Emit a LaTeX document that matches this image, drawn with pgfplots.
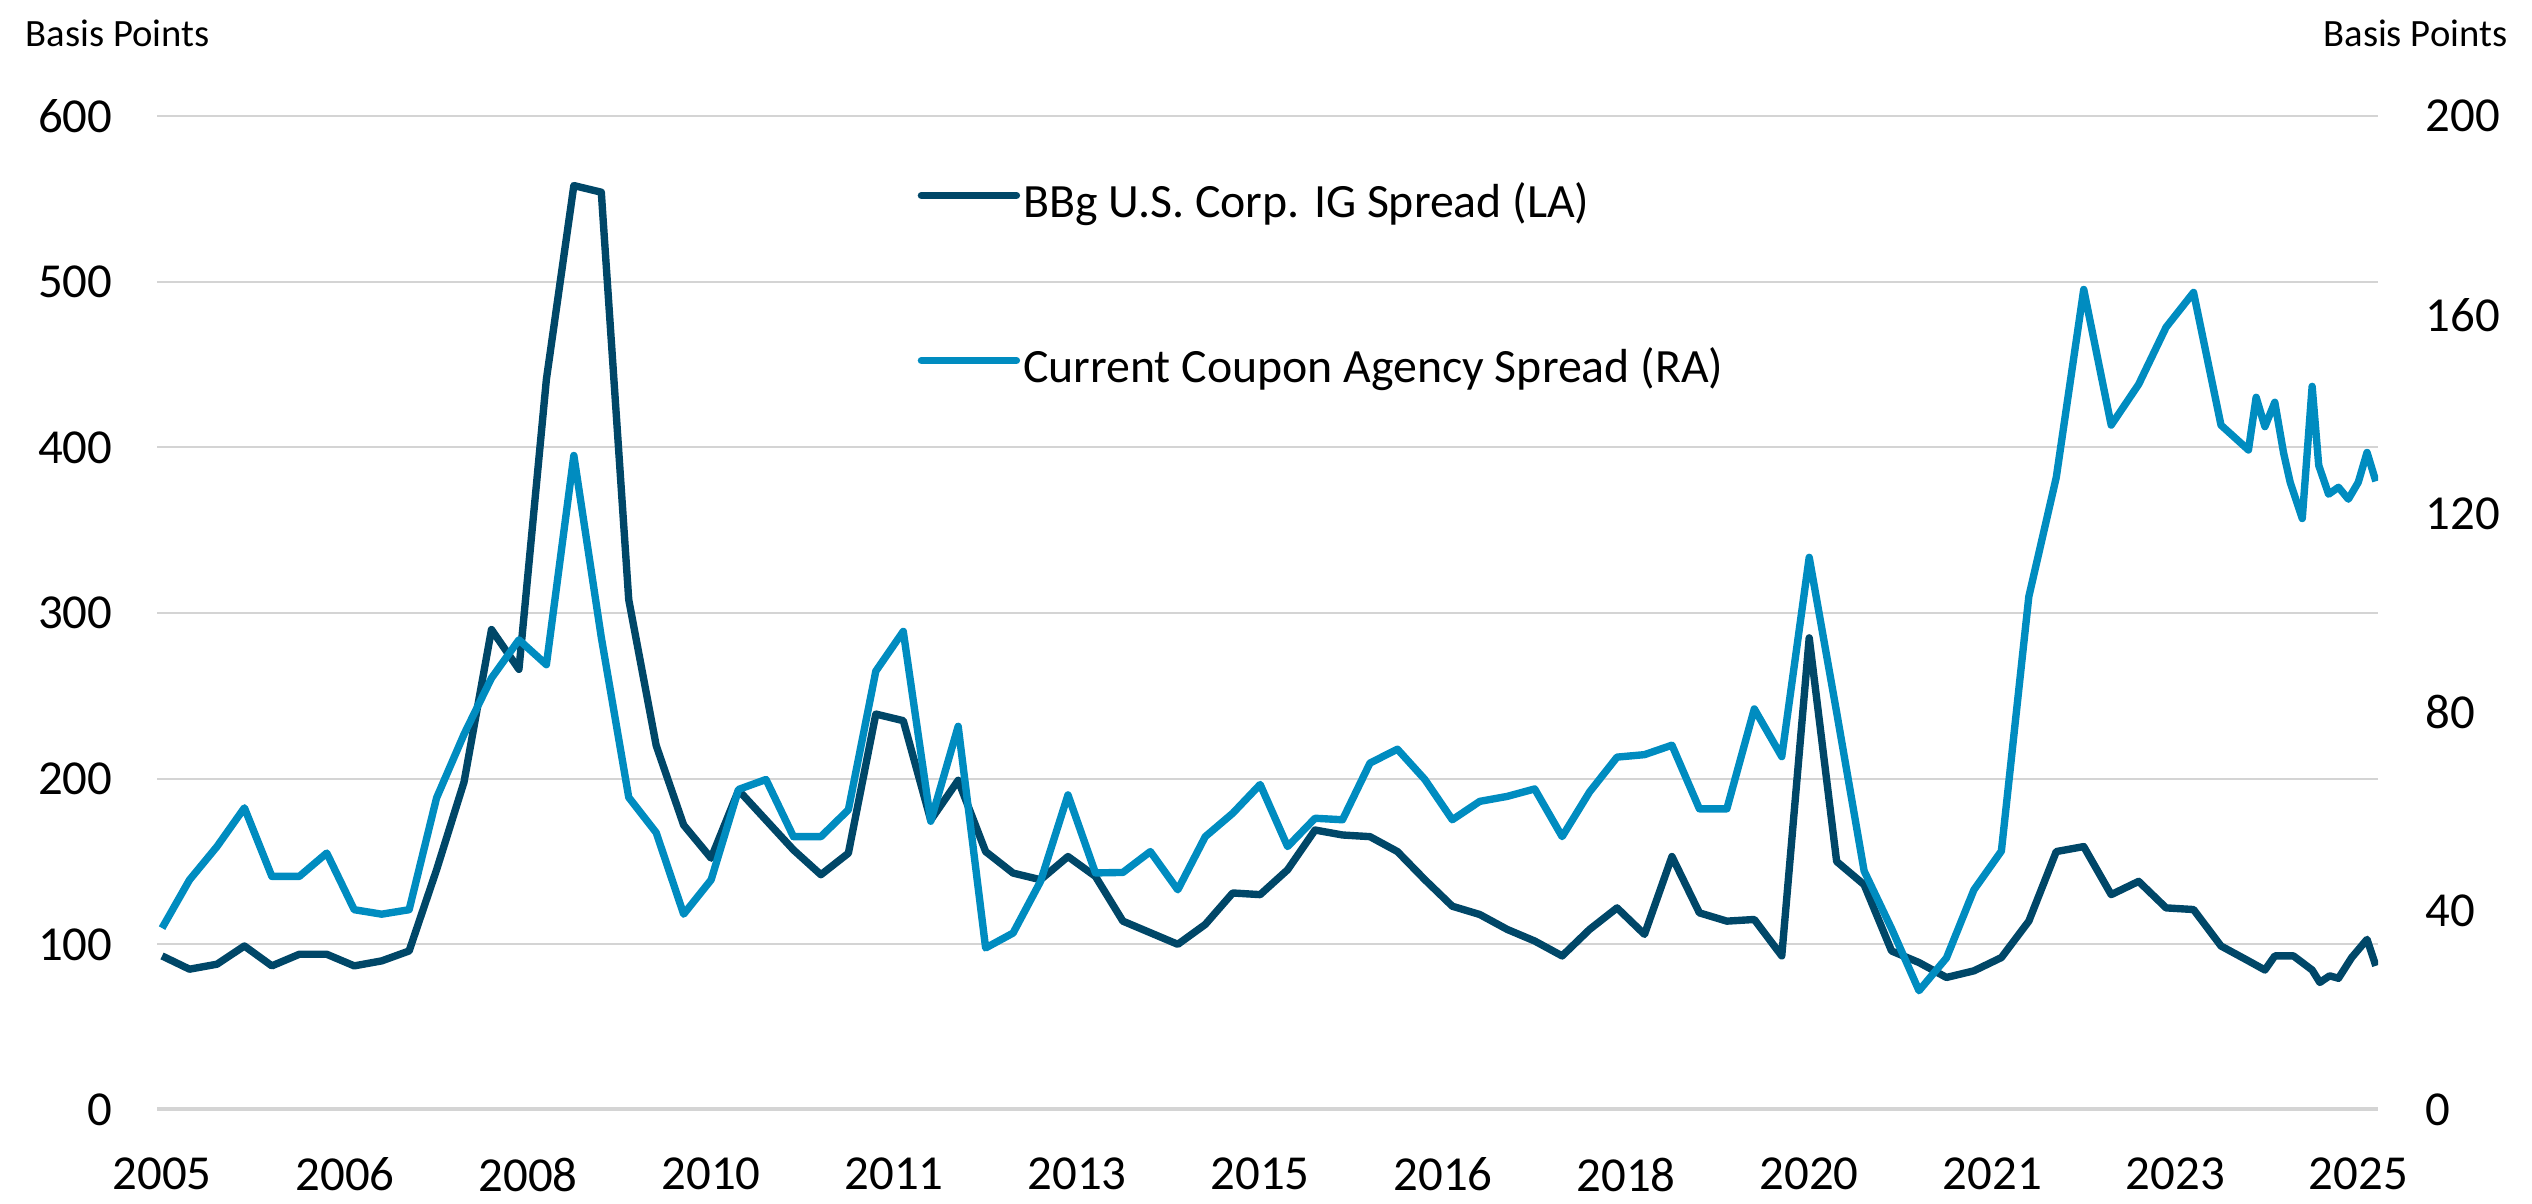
\documentclass[border=0pt]{standalone}
\usepackage{pgfplots}
\usepackage{pgfplotstable}
\pgfplotsset{compat=1.18}
\usepackage{fontspec}
\setmainfont{Carlito}
\definecolor{igblue}{RGB}{0,71,104}
\definecolor{agblue}{RGB}{0,140,192}
\definecolor{gridgray}{RGB}{212,212,212}

\pgfplotstableread{
x y
2005.00 93
2005.25 85
2005.50 88
2005.75 99
2006.00 87
2006.25 94
2006.50 94
2006.75 87
2007.00 90
2007.25 96
2007.50 145
2007.75 198
2008.00 290
2008.25 266
2008.50 441
2008.75 558
2009.00 554
2009.25 308
2009.50 220
2009.75 172
2010.00 152
2010.25 193
2010.50 175
2010.75 157
2011.00 142
2011.25 155
2011.50 239
2011.75 235
2012.00 175
2012.25 199
2012.50 156
2012.75 143
2013.00 139
2013.25 153
2013.50 141
2013.75 114
2014.00 107
2014.25 100
2014.50 112
2014.75 131
2015.00 130
2015.25 145
2015.50 169
2015.75 166
2016.00 165
2016.25 156
2016.50 139
2016.75 123
2017.00 118
2017.25 109
2017.50 102
2017.75 93
2018.00 109
2018.25 122
2018.50 106
2018.75 153
2019.00 119
2019.25 114
2019.50 115
2019.75 93
2020.00 285
2020.25 150
2020.50 136
2020.75 96
2021.00 89
2021.25 80
2021.50 84
2021.75 92
2022.00 114
2022.25 156
2022.50 159
2022.75 130
2023.00 138
2023.25 122
2023.50 121
2023.75 99
2024.00 90
2024.15 84.5
2024.24 93
2024.41 93
2024.58 84.5
2024.65 77
2024.74 81
2024.82 79.5
2024.94 92
2025.08 103
2025.16 87
}\igdata

\pgfplotstableread{
x y
2005.00 36.6
2005.25 46.3
2005.50 53
2005.75 60.8
2006.00 47
2006.25 47
2006.50 51.7
2006.75 40.3
2007.00 39.4
2007.25 40.3
2007.50 62.8
2007.75 75.6
2008.00 86.9
2008.25 94.6
2008.50 89.6
2008.75 131.7
2009.00 95.1
2009.25 62.9
2009.50 55.8
2009.75 39.4
2010.00 46.3
2010.25 64.5
2010.50 66.5
2010.75 55
2011.00 55
2011.25 60.4
2011.50 88.3
2011.75 96.3
2012.00 58.1
2012.25 77.2
2012.50 32.6
2012.75 35.6
2013.00 46
2013.25 63.4
2013.50 47.7
2013.75 47.8
2014.00 52
2014.25 44.3
2014.50 55
2014.75 59.7
2015.00 65.5
2015.25 53
2015.50 58.7
2015.75 58.4
2016.00 69.8
2016.25 72.6
2016.50 66.5
2016.75 58.4
2017.00 62.1
2017.25 63.1
2017.50 64.6
2017.75 55
2018.00 64
2018.25 71
2018.50 71.5
2018.75 73.4
2019.00 60.6
2019.25 60.6
2019.50 80.7
2019.75 71.1
2020.00 111.2
2020.25 80
2020.50 48.1
2020.75 36.5
2021.00 24
2021.25 30.6
2021.50 44.3
2021.75 52.1
2022.00 103.3
2022.25 127.3
2022.50 165.1
2022.75 137.8
2023.00 146
2023.25 157.5
2023.50 164.5
2023.75 137.8
2024.00 132.8
2024.07 143.4
2024.15 137.5
2024.24 142.4
2024.32 132.2
2024.38 126.3
2024.49 119
2024.58 145.6
2024.64 129.7
2024.73 123.9
2024.82 125.3
2024.91 122.9
2025.00 126.3
2025.08 132.3
2025.16 126.5
}\agdata

\pgfplotsset{
  common/.style={
    at={(0,0)}, anchor=south west,
    scale only axis, width=222.1mm, height=99.4mm,
    xmin=2004.954, xmax=2025.18,
    axis line style={draw=none},
    major tick length=0pt,
    tick style={draw=none},
    ticklabel style={font=\fontsize{13.9}{14}\selectfont},
    /pgf/number format/assume math mode=true,
  }
}

\begin{document}
\begin{tikzpicture}
\useasboundingbox (-15.7mm,-9.4mm) rectangle (237.5mm,111.0mm);
\begin{axis}[
  common,
  ymin=0, ymax=600,
  xtick={2005,2006.6667,2008.3333,2010,2011.6667,2013.3333,2015,2016.6667,2018.3333,2020,2021.6667,2023.3333,2025},
  xticklabels={2005,2006,2008,2010,2011,2013,2015,2016,2018,2020,2021,2023,2025},
  ytick={0,100,...,600},
  ymajorgrids, grid style={gridgray, line width=0.2mm},
  xticklabel style={anchor=north, inner sep=0pt, yshift=-4.7mm},
  yticklabel style={anchor=east, inner sep=0pt, xshift=-4.4mm},
  legend cell align=left,
  legend image code/.code={\draw[#1, line cap=round] (0mm,1.1mm) -- (9.5mm,1.1mm);},
  legend style={at={(0.3422,0.826)}, anchor=west, draw=none, fill=none,
    inner sep=0pt, row sep=12.1mm, column sep=0.3mm,
    font=\fontsize{13.6}{14}\selectfont,
    nodes={inner sep=0pt, text height=3.3mm, text depth=1.1mm}},
]
\draw[gridgray, line width=0.6mm] (rel axis cs:0,0) -- (rel axis cs:1,0);
\addplot[igblue, line width=2.1pt, line join=round] table[x=x,y=y]{\igdata};
\addlegendentry{BBg U.S. Corp. IG Spread (LA)}
\addlegendimage{agblue, line width=2.1pt}
\addlegendentry{Current Coupon Agency Spread (RA)}
\end{axis}
\begin{axis}[
  common,
  ymin=0, ymax=200,
  ytick={0,40,...,200},
  axis y line*=right, axis x line=none,
  yticklabel style={anchor=west, inner sep=0pt, xshift=4.7mm},
]
\addplot[agblue, line width=2.1pt, line join=round] table[x=x,y=y]{\agdata};
\end{axis}
\node[anchor=base west, font=\fontsize{11}{12}\selectfont, inner sep=0pt] at (-13.2mm,106.3mm) {Basis Points};
\node[anchor=base east, font=\fontsize{11}{12}\selectfont, inner sep=0pt] at (235.1mm,106.3mm) {Basis Points};
\end{tikzpicture}
\end{document}
